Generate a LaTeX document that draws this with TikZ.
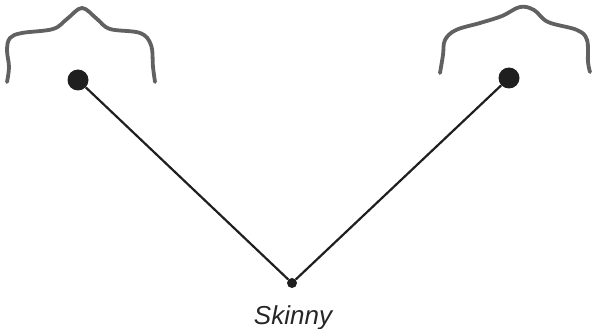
\documentclass[tikz,border=0pt]{standalone}
\usepackage{fontspec}
\setsansfont{Liberation Sans}
\usetikzlibrary{positioning}

\begin{document}
\begin{tikzpicture}[
    x=1pt, y=-1pt,
    joint/.style={circle, fill=black!88, inner sep=0pt, minimum size=#1},
    joint/.default=21pt,
    limb/.style={draw=black!88, line width=2.2pt},
    hair/.style={draw=black!62, line width=3.8pt, line cap=round, line join=round},
    lbl/.style={font=\sffamily\itshape\fontsize{26}{30}\selectfont, text=black!85},
    ]
\useasboundingbox (0,0) rectangle (592,329);

% the two ends and the meeting point
\node[joint] (left) at (78,80) {};
\node[joint] (right) at (509,78) {};
\node[joint=10pt] (base) at (292,283) {};
\node[lbl, anchor=base] (name) at (293,324) {Skinny};

\draw[limb] (left) -- (base) -- (right);

% wavy strands above each end
\draw[hair] plot[smooth, tension=0.6] coordinates {(7,82) (9,67) (7,50) (10,38) (22,33) (53,29) (67,19) (82,8) (97,19) (110,29) (140,33) (151,45) (153,67) (155,82)};
\draw[hair] plot[smooth, tension=0.6] coordinates {(440,73) (443,55) (445,40) (456,30) (480,23) (502,16) (520,7) (534,10) (548,22) (577,30) (587,40) (588,62) (590,72)};
\end{tikzpicture}
\end{document}
